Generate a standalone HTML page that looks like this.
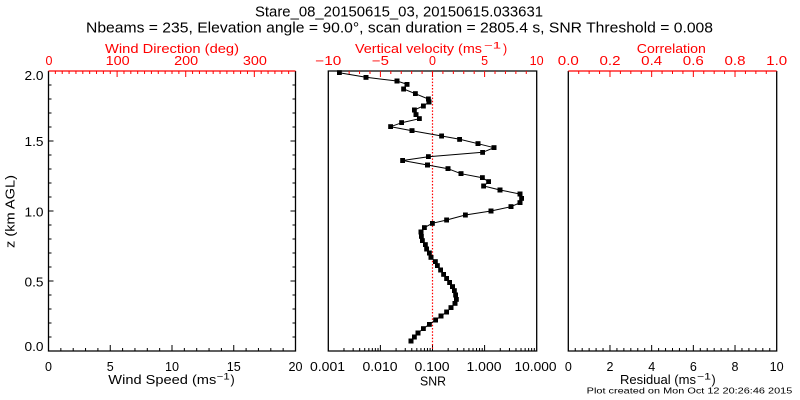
<!DOCTYPE html>
<html>
<head>
<meta charset="utf-8">
<style>
html,body{margin:0;padding:0;background:#fff;}
svg{display:block;}
text{font-family:"Liberation Sans",sans-serif;}
</style>
</head>
<body>
<svg width="800" height="400" viewBox="0 0 800 400" xmlns="http://www.w3.org/2000/svg">
<rect width="800" height="400" fill="#fff"/>
<defs>
<marker id="m" markerWidth="5" markerHeight="5" refX="2.5" refY="2.5" markerUnits="userSpaceOnUse"><rect width="5" height="5" fill="#000"/></marker>
</defs>

<!-- Titles -->
<text x="255" y="16.5" font-size="14.5" textLength="288" lengthAdjust="spacingAndGlyphs" fill="#000">Stare_08_20150615_03, 20150615.033631</text>
<text x="86" y="32.5" font-size="14.5" textLength="627" lengthAdjust="spacingAndGlyphs" fill="#000">Nbeams = 235, Elevation angle = 90.0°, scan duration = 2805.4 s, SNR Threshold = 0.008</text>

<!-- ===== Left panel ===== -->
<g fill="none" stroke-width="1.3">
<path d="M48.5 71V351H295.5V71" stroke="#000"/>
<path d="M48.5 71H295.5" stroke="#f00"/>
</g>
<!-- bottom ticks -->
<path stroke="#000" stroke-width="1" fill="none" d="M60.85 351v-3M73.2 351v-3M85.55 351v-3M97.9 351v-3M110.25 351v-6M122.6 351v-3M134.95 351v-3M147.3 351v-3M159.65 351v-3M172 351v-6M184.35 351v-3M196.7 351v-3M209.05 351v-3M221.4 351v-3M233.75 351v-6M246.1 351v-3M258.45 351v-3M270.8 351v-3M283.15 351v-3"/>
<!-- top ticks red -->
<path stroke="#f00" stroke-width="1" fill="none" d="M55.36 71v3M62.22 71v3M69.08 71v3M75.94 71v3M82.81 71v3M89.67 71v3M96.53 71v3M103.39 71v3M110.25 71v3M117.11 71v6M123.97 71v3M130.83 71v3M137.69 71v3M144.56 71v3M151.42 71v3M158.28 71v3M165.14 71v3M172 71v3M178.86 71v3M185.72 71v6M192.58 71v3M199.44 71v3M206.31 71v3M213.17 71v3M220.03 71v3M226.89 71v3M233.75 71v3M240.61 71v3M247.47 71v3M254.33 71v6M261.19 71v3M268.06 71v3M274.92 71v3M281.78 71v3M288.64 71v3"/>
<!-- y ticks -->
<path stroke="#000" stroke-width="1" fill="none" d="M48.5 337h3M48.5 323h3M48.5 309h3M48.5 295h3M48.5 281h5M48.5 267h3M48.5 253h3M48.5 239h3M48.5 225h3M48.5 211h5M48.5 197h3M48.5 183h3M48.5 169h3M48.5 155h3M48.5 141h5M48.5 127h3M48.5 113h3M48.5 99h3M48.5 85h3
M295.5 337h-3M295.5 323h-3M295.5 309h-3M295.5 295h-3M295.5 281h-5M295.5 267h-3M295.5 253h-3M295.5 239h-3M295.5 225h-3M295.5 211h-5M295.5 197h-3M295.5 183h-3M295.5 169h-3M295.5 155h-3M295.5 141h-5M295.5 127h-3M295.5 113h-3M295.5 99h-3M295.5 85h-3"/>
<!-- y labels -->
<g font-size="12.5" fill="#000" text-anchor="end">
<text x="43.5" y="80" textLength="19" lengthAdjust="spacingAndGlyphs">2.0</text>
<text x="43.5" y="146" textLength="19" lengthAdjust="spacingAndGlyphs">1.5</text>
<text x="43.5" y="216.5" textLength="19" lengthAdjust="spacingAndGlyphs">1.0</text>
<text x="43.5" y="286.5" textLength="19" lengthAdjust="spacingAndGlyphs">0.5</text>
<text x="43.5" y="351" textLength="19" lengthAdjust="spacingAndGlyphs">0.0</text>
</g>
<text transform="translate(14.5,211.5) rotate(-90)" text-anchor="middle" font-size="12.5" fill="#000" textLength="73" lengthAdjust="spacingAndGlyphs">z (km AGL)</text>
<!-- top labels left -->
<g font-size="12.5" fill="#f00" text-anchor="middle">
<text x="105" y="53" text-anchor="start" textLength="134" lengthAdjust="spacingAndGlyphs">Wind Direction (deg)</text>
<text x="49" y="65">0</text>
<text x="117.6" y="65" textLength="24" lengthAdjust="spacingAndGlyphs">100</text>
<text x="186.2" y="65" textLength="24" lengthAdjust="spacingAndGlyphs">200</text>
<text x="254.9" y="65" textLength="24" lengthAdjust="spacingAndGlyphs">300</text>
</g>
<!-- bottom labels left -->
<g font-size="12.5" fill="#000" text-anchor="middle">
<text x="48.5" y="371">0</text>
<text x="110.25" y="371">5</text>
<text x="172" y="371" textLength="14" lengthAdjust="spacingAndGlyphs">10</text>
<text x="233.75" y="371" textLength="14" lengthAdjust="spacingAndGlyphs">15</text>
<text x="295.5" y="371" textLength="14" lengthAdjust="spacingAndGlyphs">20</text>
</g>
<text x="108.3" y="384" font-size="12.5" fill="#000" textLength="108" lengthAdjust="spacingAndGlyphs">Wind Speed (ms</text>
<text x="216.7" y="379.5" font-size="9" fill="#000" textLength="13" lengthAdjust="spacingAndGlyphs">−1</text>
<text x="230.5" y="384" font-size="12.5" fill="#000">)</text>

<!-- ===== Middle panel ===== -->
<g fill="none" stroke-width="1.3" stroke="#000">
<path d="M328.3 71V351H536.7V71Z"/>
</g>
<path stroke="#f00" stroke-width="1" fill="none" d="M338.72 71v3M349.14 71v3M359.56 71v3M369.98 71v3M380.4 71v6M390.82 71v3M401.24 71v3M411.66 71v3M422.08 71v3M432.5 71v6M442.92 71v3M453.34 71v3M463.76 71v3M474.18 71v3M484.6 71v6M495.02 71v3M505.44 71v3M515.86 71v3M526.28 71v3"/>
<path stroke="#000" stroke-width="1" fill="none" d="M343.98 351v-3M353.16 351v-3M359.67 351v-3M364.72 351v-3M368.84 351v-3M372.33 351v-3M375.35 351v-3M378.02 351v-3M380.4 351v-6
M396.08 351v-3M405.26 351v-3M411.77 351v-3M416.82 351v-3M420.94 351v-3M424.43 351v-3M427.45 351v-3M430.12 351v-3M432.5 351v-6
M448.18 351v-3M457.36 351v-3M463.87 351v-3M468.92 351v-3M473.04 351v-3M476.53 351v-3M479.55 351v-3M482.22 351v-3M484.6 351v-6
M500.28 351v-3M509.46 351v-3M515.97 351v-3M521.02 351v-3M525.14 351v-3M528.63 351v-3M531.65 351v-3M534.32 351v-3"/>
<!-- zero dotted line -->
<path d="M432.5 72V350" stroke="#f00" stroke-width="1.2" stroke-dasharray="1.5 1.7" fill="none"/>
<!-- data -->
<polyline fill="none" stroke="#000" stroke-width="1" marker-start="url(#m)" marker-mid="url(#m)" marker-end="url(#m)" points="339.3,72.7 366,77.3 397,81 407,84.3 403.7,89 415.3,93.7 428.3,99 429,102 423.3,106 414.3,110 416,114.7 419.3,118.7 401.7,122.7 390.7,126.7 412,130.7 441.7,136 459.7,139.3 478,143.7 494,147.7 482.7,152.3 428.3,156.7 402.7,160.5 427.5,165 448,168.7 461,173.7 482.3,177.7 488.7,181.7 483.7,186 500,190 520,194 521.7,198.3 520,202.7 511,206.7 491,211 465.3,215 446.7,220 432.3,223.3 424.3,227.7 421,232 421.3,236.3 422.3,240.7 425.3,244.7 426.7,249 429.3,253 431,257.3 435.3,261.7 437.3,265.7 440.7,270 443.7,274.3 446.7,278.5 449.7,282.5 452.5,286.7 454.3,290.7 455.7,295 456.3,299.3 455,303.3 451,307.7 446.7,312 441,316 435.7,320 429.3,324.3 423.3,328.7 418,333 414.3,337 411,341"/>
<!-- top labels middle -->
<g font-size="12.5" fill="#f00" text-anchor="middle">
<text x="355" y="53" text-anchor="start" textLength="127" lengthAdjust="spacingAndGlyphs">Vertical velocity (ms</text>
<text x="328.3" y="65" textLength="26" lengthAdjust="spacingAndGlyphs">−10</text>
<text x="380.4" y="65" textLength="17" lengthAdjust="spacingAndGlyphs">−5</text>
<text x="432.5" y="65">0</text>
<text x="484.6" y="65">5</text>
<text x="536.7" y="65" textLength="14" lengthAdjust="spacingAndGlyphs">10</text>
</g>
<text x="484" y="48.5" font-size="9" fill="#f00" textLength="17" lengthAdjust="spacingAndGlyphs">−1</text>
<text x="503" y="53" font-size="12.5" fill="#f00">)</text>
<!-- bottom labels middle -->
<g font-size="12.5" fill="#000" text-anchor="middle">
<text x="327.5" y="371" textLength="35" lengthAdjust="spacingAndGlyphs">0.001</text>
<text x="380" y="371" textLength="35" lengthAdjust="spacingAndGlyphs">0.010</text>
<text x="432" y="371" textLength="35" lengthAdjust="spacingAndGlyphs">0.100</text>
<text x="484" y="371" textLength="35" lengthAdjust="spacingAndGlyphs">1.000</text>
<text x="535.5" y="371" textLength="42" lengthAdjust="spacingAndGlyphs">10.000</text>
<text x="433" y="385.5" textLength="26" lengthAdjust="spacingAndGlyphs">SNR</text>
</g>

<!-- ===== Right panel ===== -->
<g fill="none" stroke-width="1.3">
<path d="M568.3 71V351H776.7V71" stroke="#000"/>
<path d="M568.3 71H776.7" stroke="#f00"/>
</g>
<path stroke="#f00" stroke-width="1" fill="none" d="M578.72 71v3M589.14 71v3M599.56 71v3M609.98 71v6M620.4 71v3M630.82 71v3M641.24 71v3M651.66 71v6M662.08 71v3M672.5 71v3M682.92 71v3M693.34 71v6M703.76 71v3M714.18 71v3M724.6 71v3M735.02 71v6M745.44 71v3M755.86 71v3M766.28 71v3"/>
<path stroke="#000" stroke-width="1" fill="none" d="M575.25 351v-3M582.19 351v-3M589.14 351v-3M596.09 351v-3M603.03 351v-3M609.98 351v-6M616.93 351v-3M623.87 351v-3M630.82 351v-3M637.77 351v-3M644.71 351v-3M651.66 351v-6M658.61 351v-3M665.55 351v-3M672.5 351v-3M679.45 351v-3M686.39 351v-3M693.34 351v-6M700.29 351v-3M707.23 351v-3M714.18 351v-3M721.13 351v-3M728.07 351v-3M735.02 351v-6M741.97 351v-3M748.91 351v-3M755.86 351v-3M762.81 351v-3M769.75 351v-3"/>
<g font-size="12.5" fill="#f00" text-anchor="middle">
<text x="671.3" y="53" textLength="69" lengthAdjust="spacingAndGlyphs">Correlation</text>
<text x="568.3" y="65" textLength="21" lengthAdjust="spacingAndGlyphs">0.0</text>
<text x="610" y="65" textLength="21" lengthAdjust="spacingAndGlyphs">0.2</text>
<text x="651.7" y="65" textLength="21" lengthAdjust="spacingAndGlyphs">0.4</text>
<text x="693.3" y="65" textLength="21" lengthAdjust="spacingAndGlyphs">0.6</text>
<text x="735" y="65" textLength="21" lengthAdjust="spacingAndGlyphs">0.8</text>
<text x="776.7" y="65" textLength="21" lengthAdjust="spacingAndGlyphs">1.0</text>
</g>
<g font-size="12.5" fill="#000" text-anchor="middle">
<text x="568.3" y="371">0</text>
<text x="610" y="371">2</text>
<text x="651.7" y="371">4</text>
<text x="693.3" y="371">6</text>
<text x="735" y="371">8</text>
<text x="776.7" y="371" textLength="14" lengthAdjust="spacingAndGlyphs">10</text>
</g>
<text x="620" y="384" font-size="12.5" fill="#000" textLength="76" lengthAdjust="spacingAndGlyphs">Residual (ms</text>
<text x="697" y="379.5" font-size="9" fill="#000" textLength="14" lengthAdjust="spacingAndGlyphs">−1</text>
<text x="711.5" y="384" font-size="12.5" fill="#000">)</text>
<text x="586.7" y="393.5" font-size="8.5" fill="#000" textLength="205.6" lengthAdjust="spacingAndGlyphs">Plot created on Mon Oct 12 20:26:46 2015</text>
</svg>
</body>
</html>
